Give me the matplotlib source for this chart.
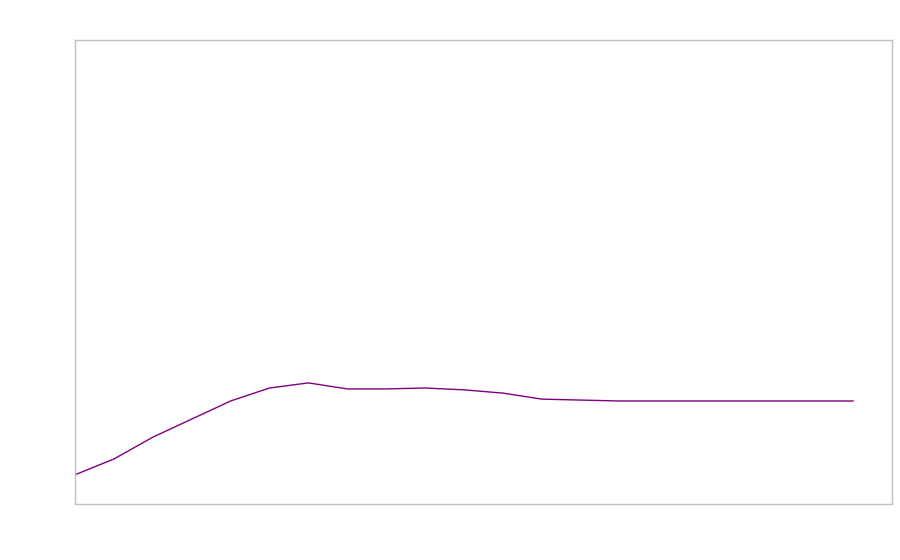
import numpy as np
import matplotlib
matplotlib.use("Agg")
import matplotlib.pyplot as plt

# values (arbitrary units, axis 0..100)
steps = list(range(21))
values = [6.3, 9.7, 14.4, 18.3, 22.2, 25.0, 26.1, 24.8, 24.8, 25.0,
          24.6, 23.9, 22.6, 22.4, 22.2, 22.2, 22.2, 22.2, 22.2, 22.2, 22.2]

fig = plt.figure(figsize=(9, 5.6), dpi=100)
ax = fig.add_axes([75 / 900, 56 / 560, 817 / 900, 464 / 560])

ax.plot(steps, values, color="#800080", linewidth=1)

ax.set_xlim(0, 21)
ax.set_ylim(0, 100)
ax.set_xticks([])
ax.set_yticks([])
for s in ax.spines.values():
    s.set_color("#c0c0c0")
    s.set_linewidth(1)

fig.savefig("out.png", dpi=100)
